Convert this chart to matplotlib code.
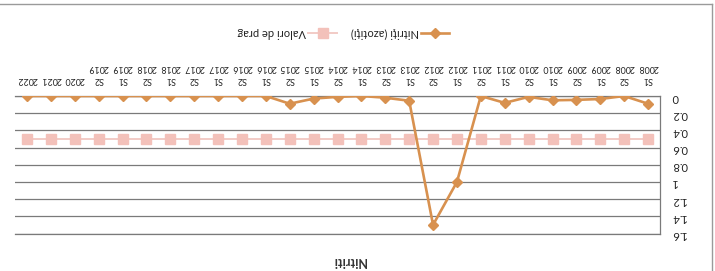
import matplotlib
matplotlib.use("Agg")
import matplotlib.pyplot as plt
from matplotlib.lines import Line2D

plt.rcParams['font.family'] = ['Lato', 'DejaVu Sans']

# ---- data (original chart orientation, left to right) ----
categories = ["S1\n2008", "S2\n2008", "S1\n2009", "S2\n2009", "S1\n2010", "S2\n2010",
              "S1\n2011", "S2\n2011", "S1\n2012", "S2\n2012", "S1\n2013", "S2\n2013",
              "S1\n2014", "S2\n2014", "S1\n2015", "S2\n2015", "S1\n2016", "S2\n2016",
              "S1\n2017", "S2\n2017", "S1\n2018", "S2\n2018", "S1\n2019", "S2\n2019",
              "2020", "2021", "2022"]
nitriti = [0.09, 0.0, 0.035, 0.045, 0.05, 0.01, 0.08, 0.0, 1.0, 1.5, 0.055, 0.02,
           0.0, 0.01, 0.03, 0.09, 0.0, 0.0, 0.0, 0.0, 0.0, 0.0, 0.0, 0.0,
           0.0, 0.0, 0.0]
prag = [0.5] * 27
yticks = [0, 0.2, 0.4, 0.6, 0.8, 1, 1.2, 1.4, 1.6]
ytick_labels = ["0", "0.2", "0.4", "0.6", "0.8", "1", "1.2", "1.4", "1.6"]
title = "Nitriti"
label_nitriti = "Nitriţi (azotiţi)"
label_prag = "Valori de prag"

orange = "#D8914F"
pink = "#F3C1BA"
pink_line = "#F2CBC6"

W, H = 715, 271
fig = plt.figure(figsize=(W / 100, H / 100), dpi=100)

def fx(px):
    return px / W

def fy(py):
    return 1 - py / H

# The reference is the chart rotated by 180 degrees
ax = fig.add_axes([fx(15), fy(233.5), fx(660) - fx(15), fy(96) - fy(233.5)])
x = list(range(len(categories)))
ax.plot(x, prag, color=pink_line, lw=1.4, marker='s', ms=6.5,
        mfc=pink, mec=pink, zorder=3)
ax.plot(x, nitriti, color=orange, lw=1.9, marker='D', ms=5,
        mfc=orange, mec=orange, zorder=4)

ax.set_xlim(-0.5, len(categories) - 0.5)
ax.set_ylim(0, 1.6)
ax.invert_xaxis()
ax.invert_yaxis()

ax.set_yticks(yticks)
ax.set_yticklabels(ytick_labels)
ax.yaxis.tick_right()
ax.tick_params(axis='y', length=0, pad=8.5, labelsize=8, labelcolor='#222222',
               labelrotation=180)
ax.set_xticks(x)
ax.set_xticklabels(categories, linespacing=1.4)
ax.xaxis.tick_top()
ax.tick_params(axis='x', length=0, pad=8.5, labelsize=6.4, labelcolor='#222222',
               labelrotation=180)

ax.grid(axis='y', color='#7a7a7a', lw=0.9)
ax.set_axisbelow(True)
ax.spines['left'].set_visible(False)
for s in ['top', 'right', 'bottom']:
    ax.spines[s].set_color('#7a7a7a')
    ax.spines[s].set_linewidth(0.9)

# title (at the bottom, upside down)
fig.text(fx(349.5), fy(261), title, rotation=180, ha='center', va='center',
         fontsize=9, fontweight='bold', color='#333333')

# legend (at the top, upside down)
ly = fy(32.5)
fig.add_artist(Line2D([fx(421), fx(449)], [ly, ly], color=orange, lw=1.9))
fig.add_artist(Line2D([fx(435)], [ly], color=orange, marker='D', ms=5, lw=0))
fig.text(fx(419), ly, label_nitriti, rotation=180, ha='right', va='center',
         fontsize=8, color='#222222')
fig.add_artist(Line2D([fx(308), fx(337)], [ly, ly], color=pink_line, lw=1.4))
fig.add_artist(Line2D([fx(322.5)], [ly], color=pink, marker='s', ms=6.5, lw=0))
fig.text(fx(306), ly, label_prag, rotation=180, ha='right', va='center',
         fontsize=8, color='#222222')

# chart border (top and right edges visible)
fig.add_artist(Line2D([0, fx(712)], [fy(4), fy(4)], color='#9a9a9a', lw=1.0))
fig.add_artist(Line2D([fx(712), fx(712)], [fy(4), 0], color='#9a9a9a', lw=1.0))

fig.savefig("out.png", dpi=100)
